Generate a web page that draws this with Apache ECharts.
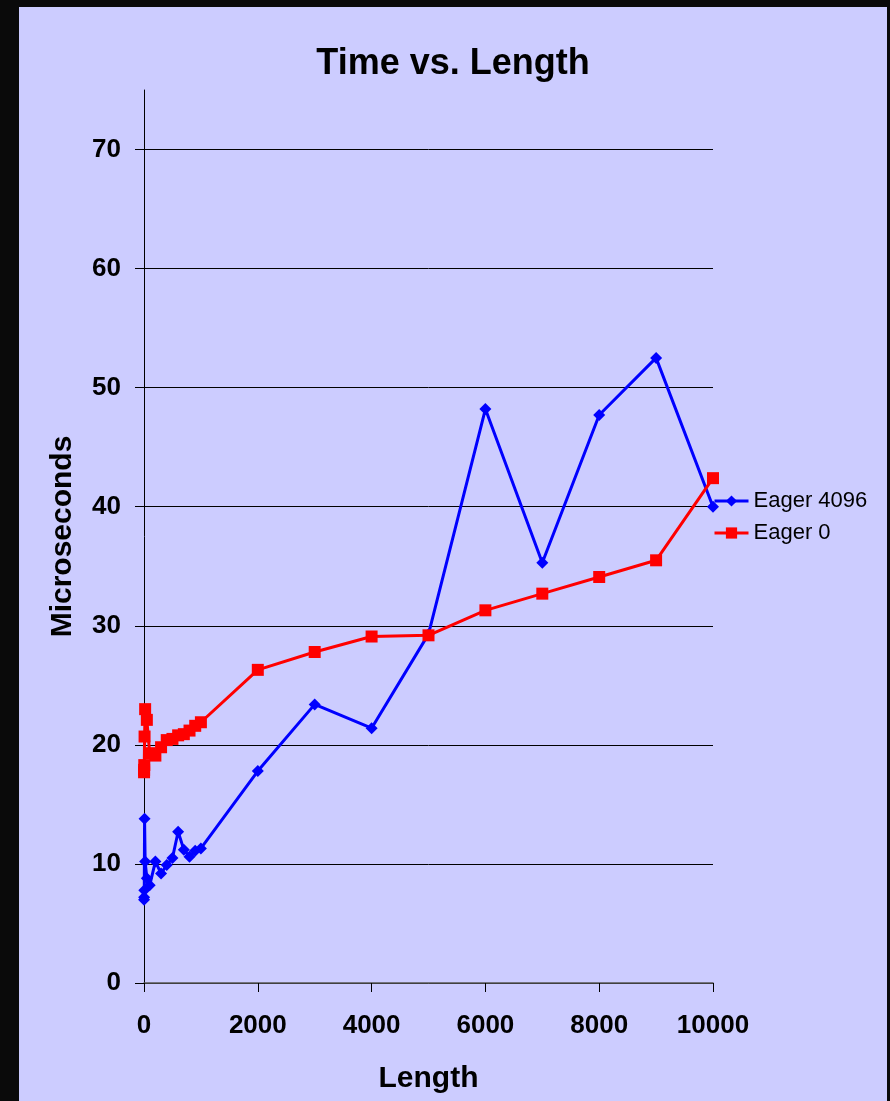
<!DOCTYPE html>
<html>
<head>
<meta charset="utf-8">
<script src="https://cdn.jsdelivr.net/npm/echarts@6/dist/echarts.min.js"></script>
<style>
  html, body { margin: 0; padding: 0; background: #0a0a0a; width: 890px; height: 1101px; overflow: hidden; }
  #chart { position: absolute; left: 19px; top: 7px; width: 868px; height: 1094px; background: #CCCCFF; }
</style>
</head>
<body>
<div id="chart"></div>
<script>
// Message length (bytes) and measured time in microseconds
const lengths = [1, 2, 5, 10, 20, 50, 100, 200, 300, 400, 500, 600, 700, 800, 900, 1000,
                 2000, 3000, 4000, 5000, 6000, 7000, 8000, 9000, 10000];
const eager4096 = [7.0, 7.2, 7.8, 13.8, 10.2, 8.8, 8.2, 10.2, 9.2, 9.9, 10.5, 12.7, 11.2, 10.6, 11.1, 11.3,
                   17.8, 23.4, 21.4, 29.3, 48.2, 35.3, 47.7, 52.5, 40.0];
const eager0 = [17.7, 17.9, 18.3, 20.7, 23.0, 22.1, 19.3, 19.1, 19.8, 20.4, 20.5, 20.8, 20.9, 21.2, 21.6, 21.9,
                26.3, 27.8, 29.1, 29.2, 31.3, 32.7, 34.1, 35.5, 42.4];
const yTicks = [0, 10, 20, 30, 40, 50, 60, 70];
const seriesNames = ['Eager 4096', 'Eager 0'];

const FONT = "'Liberation Sans', Arial, sans-serif";
const pairs = (xs, ys) => xs.map((x, i) => [x, ys[i]]);

const chart = echarts.init(document.getElementById('chart'), null, { renderer: 'canvas' });
chart.setOption({
  animation: false,
  textStyle: { fontFamily: FONT },
  title: {
    text: 'Time vs. Length',
    left: 'center',
    top: 34,
    textStyle: { fontFamily: FONT, fontWeight: 'bold', fontSize: 36, color: '#000' }
  },
  legend: {
    orient: 'vertical',
    left: 689,
    top: 478,
    itemWidth: 34,
    itemHeight: 14,
    itemGap: 10,
    lineStyle: { width: 3 },
    textStyle: { fontFamily: FONT, fontSize: 22, color: '#000' },
    data: seriesNames
  },
  grid: { left: 125, right: 174, top: 83, bottom: 118, containLabel: false },
  xAxis: {
    type: 'value',
    min: 0, max: 10000, interval: 2000,
    name: 'Length',
    nameLocation: 'middle',
    nameGap: 81,
    nameTextStyle: { fontFamily: FONT, fontWeight: 'bold', fontSize: 30, color: '#000' },
    axisLine: { show: true, onZero: false, lineStyle: { color: '#555', width: 1.5 } },
    axisTick: { show: true, inside: false, length: 9, lineStyle: { color: '#000', width: 1 } },
    axisLabel: { margin: 30, formatter: v => String(v), fontFamily: FONT, fontWeight: 'bold', fontSize: 26, color: '#000' },
    splitLine: { show: false }
  },
  yAxis: {
    type: 'value',
    min: 0, max: 75, interval: 10,
    name: 'Microseconds',
    nameLocation: 'middle',
    nameGap: 66,
    nameTextStyle: { fontFamily: FONT, fontWeight: 'bold', fontSize: 30, color: '#000' },
    axisLine: { show: true, onZero: false, lineStyle: { color: '#000', width: 1 } },
    axisTick: { show: true, inside: false, length: 9, customValues: yTicks, lineStyle: { color: '#000', width: 1 } },
    axisLabel: { margin: 23, customValues: yTicks, fontFamily: FONT, fontWeight: 'bold', fontSize: 26, color: '#000' },
    splitLine: { show: true, lineStyle: { color: '#000', width: 1 } }
  },
  series: [
    {
      name: seriesNames[0],
      type: 'line',
      data: pairs(lengths, eager4096),
      symbol: 'diamond',
      symbolSize: 12,
      color: '#0000FF',
      lineStyle: { color: '#0000FF', width: 3 },
      itemStyle: { color: '#0000FF' },
      z: 3
    },
    {
      name: seriesNames[1],
      type: 'line',
      data: pairs(lengths, eager0),
      symbol: 'rect',
      symbolSize: 12,
      color: '#FF0000',
      lineStyle: { color: '#FF0000', width: 3 },
      itemStyle: { color: '#FF0000' },
      z: 4
    }
  ]
});
</script>
</body>
</html>
